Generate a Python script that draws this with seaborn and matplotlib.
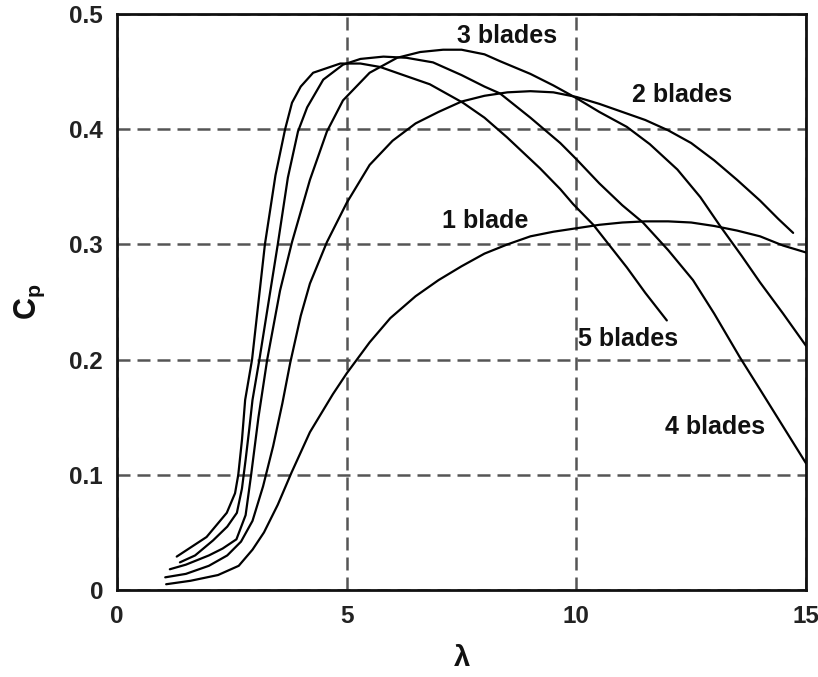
import matplotlib
matplotlib.use("Agg")
import matplotlib.pyplot as plt
import seaborn as sns
import pandas as pd

# ---- data ----
lam_1 = [1.07, 1.6, 2.2, 2.65, 2.95, 3.2, 3.5, 3.8, 4.2, 4.7, 5.0, 5.5, 5.95, 6.5, 7.0, 7.5, 8.0, 8.5, 9.0,
         9.5, 10.0, 10.5, 11.0, 11.5, 12.0, 12.5, 13.0, 13.5, 14.0, 14.5, 15.0]
cp_1 = [0.005, 0.008, 0.013, 0.021, 0.035, 0.05, 0.074, 0.102, 0.137, 0.17, 0.188, 0.215, 0.236, 0.255, 0.269,
        0.281, 0.292, 0.3, 0.307, 0.311, 0.314, 0.317, 0.319, 0.32, 0.32, 0.319, 0.316, 0.312, 0.307, 0.299, 0.293]

lam_2 = [1.05, 1.5, 2.0, 2.4, 2.7, 2.95, 3.18, 3.4, 3.6, 3.77, 4.0, 4.2, 4.57, 5.0, 5.5, 6.0, 6.5, 7.0, 7.5,
         8.0, 8.5, 9.0, 9.5, 10.0, 10.5, 11.0, 11.5, 12.0, 12.5, 13.0, 13.5, 14.0, 14.4, 14.72]
cp_2 = [0.011, 0.014, 0.021, 0.03, 0.042, 0.06, 0.09, 0.125, 0.162, 0.197, 0.238, 0.266, 0.302, 0.336, 0.369, 0.39,
        0.405, 0.415, 0.424, 0.429, 0.432, 0.433, 0.432, 0.428, 0.422, 0.415, 0.408, 0.399, 0.388, 0.373,
        0.356, 0.338, 0.322, 0.31]

lam_3 = [1.15, 1.5, 2.0, 2.3, 2.6, 2.8, 2.92, 3.08, 3.27, 3.55, 3.81, 4.2, 4.57, 4.92, 5.5, 6.1, 6.6, 7.1, 7.5,
         8.0, 8.34, 9.0, 9.5, 10.0, 10.5, 11.1, 11.6, 12.2, 12.7, 13.13, 13.6, 14.0, 14.5, 15.0]
cp_3 = [0.018, 0.022, 0.03, 0.036, 0.044, 0.065, 0.1, 0.15, 0.2, 0.26, 0.302, 0.356, 0.398, 0.425, 0.449, 0.462,
        0.467, 0.469, 0.469, 0.465, 0.459, 0.448, 0.438, 0.427, 0.415, 0.402, 0.387, 0.365, 0.341, 0.316,
        0.29, 0.267, 0.24, 0.212]

lam_4 = [1.37, 1.7, 2.09, 2.4, 2.61, 2.72, 2.8, 2.88, 2.95, 3.1, 3.3, 3.5, 3.72, 3.94, 4.14, 4.49, 4.92, 5.3, 5.8,
         6.3, 6.88, 7.5, 8.0, 8.34, 9.0, 9.65, 10.0, 10.5, 11.0, 11.45, 12.0, 12.54, 13.0, 13.56, 14.0, 14.5, 15.0]
cp_4 = [0.024, 0.03, 0.043, 0.055, 0.067, 0.088, 0.113, 0.14, 0.165, 0.2, 0.25, 0.3, 0.358, 0.398, 0.419, 0.443, 0.456,
        0.461, 0.463, 0.462, 0.458, 0.447, 0.437, 0.431, 0.41, 0.388, 0.374, 0.353, 0.334, 0.319, 0.295,
        0.269, 0.24, 0.202, 0.174, 0.142, 0.11]

lam_5 = [1.3, 1.95, 2.39, 2.57, 2.64, 2.72, 2.79, 2.94, 3.08, 3.22, 3.45, 3.66, 3.81, 4.0, 4.27, 4.86, 5.3, 5.73,
         6.16, 6.81, 7.53, 8.0, 8.49, 9.21, 9.65, 9.93, 10.37, 11.1, 11.5, 11.97]
cp_5 = [0.029, 0.046, 0.067, 0.084, 0.1, 0.13, 0.165, 0.2, 0.25, 0.3, 0.36, 0.4, 0.423, 0.437, 0.449, 0.457, 0.457,
        0.454, 0.448, 0.439, 0.423, 0.41, 0.393, 0.366, 0.348, 0.335, 0.317, 0.28, 0.258, 0.234]

curve_names = ["1 blade", "2 blades", "3 blades", "4 blades", "5 blades"]
x_ticks = [0, 5, 10, 15]
y_ticks = [0, 0.1, 0.2, 0.3, 0.4, 0.5]
y_tick_labels = ["0", "0.1", "0.2", "0.3", "0.4", "0.5"]

curves = {
    "1 blade": (lam_1, cp_1),
    "2 blades": (lam_2, cp_2),
    "3 blades": (lam_3, cp_3),
    "4 blades": (lam_4, cp_4),
    "5 blades": (lam_5, cp_5),
}

# label anchor positions (left, baseline) in data coords
label_pos = {
    "3 blades": (7.40, 0.4745),
    "2 blades": (11.22, 0.424),
    "1 blade": (7.07, 0.314),
    "5 blades": (10.04, 0.212),
    "4 blades": (11.93, 0.1354),
}

# ---- styling ----
sns.set_theme(style="white")
plt.rcParams["font.family"] = ["Liberation Sans", "DejaVu Sans"]
plt.rcParams["font.weight"] = "bold"
plt.rcParams["mathtext.fontset"] = "custom"
plt.rcParams["mathtext.rm"] = "Liberation Sans:bold"
plt.rcParams["mathtext.it"] = "Liberation Sans:bold"
plt.rcParams["mathtext.default"] = "rm"

fig = plt.figure(figsize=(8.18, 6.77), dpi=100)
ax = fig.add_axes([117 / 818, 1 - 590 / 677, (806 - 117) / 818, (590 - 14) / 677])

rows = []
for name in curve_names:
    xs, ys = curves[name]
    for xv, yv in zip(xs, ys):
        rows.append({"blades": name, "lam": xv, "cp": yv})
df = pd.DataFrame(rows)

for name in curve_names:
    sub = df[df["blades"] == name]
    sns.lineplot(data=sub, x="lam", y="cp", sort=False, estimator=None,
                 color="black", linewidth=1.6, ax=ax, legend=False, zorder=3)

ax.set_xlim(0, 15)
ax.set_ylim(0, 0.5)
ax.set_xticks(x_ticks)
ax.set_xticklabels([str(t) for t in x_ticks])
ax.set_yticks(y_ticks)
ax.set_yticklabels(y_tick_labels)
ax.tick_params(axis="both", length=0, labelsize=17.5, colors="#222222")
ax.tick_params(axis="x", pad=11)
ax.tick_params(axis="y", pad=10)
for lbl in ax.get_xticklabels() + ax.get_yticklabels():
    lbl.set_fontweight("bold")

ax.grid(True, color="#555555", linewidth=1.8, linestyle=(0, (5.2, 2.8)))
ax.set_axisbelow(True)

for sp in ax.spines.values():
    sp.set_visible(True)
    sp.set_color("#111111")
    sp.set_linewidth(2.0)

ax.set_xlabel("λ", fontsize=21, fontweight="bold", color="#111111")
ax.set_ylabel("C$_{p}$", fontsize=22, fontweight="bold", color="#111111")
ax.xaxis.set_label_coords(0.5, (590 - 644) / 576)
ax.yaxis.set_label_coords((47 - 117) / 689, 0.5)

for name in curve_names:
    lx, ly = label_pos[name]
    ax.text(lx, ly, name, fontsize=18, fontweight="bold", color="#111111",
            ha="left", va="baseline", zorder=4)

fig.savefig("out.png", dpi=100)
